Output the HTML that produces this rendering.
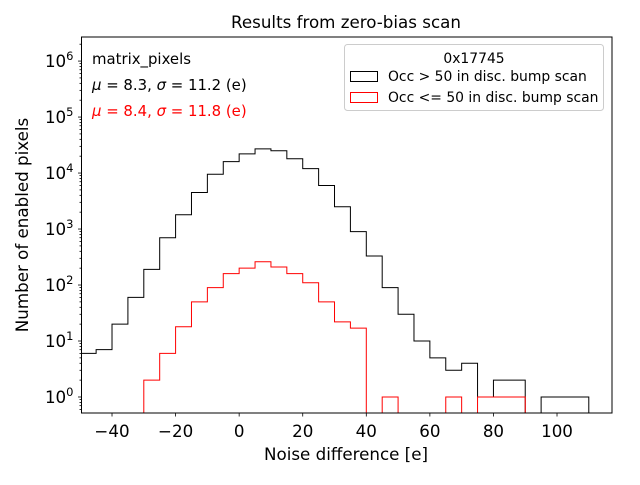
<!DOCTYPE html>
<html><head><meta charset="utf-8"><style>
body{margin:0;background:#fff}
svg text{font-family:"DejaVu Sans","Liberation Sans",sans-serif}
</style></head><body>
<svg id="c" width="640" height="480" xmlns="http://www.w3.org/2000/svg">
<rect width="640" height="480" fill="#fff"/>
<text x="346" y="28" font-size="16.7" text-anchor="middle">Results from zero-bias scan</text>
<g id="series"></g>
<g id="axes"></g>
<rect x="81.5" y="37" width="530.5" height="376" fill="none" stroke="#000" stroke-width="1"/>
<text x="92" y="64" font-size="14.9">matrix_pixels</text>
<text x="92" y="90" font-size="14.9"><tspan font-style="italic">μ</tspan> = 8.3, <tspan font-style="italic">σ</tspan> = 11.2 (e)</text>
<text x="92" y="116" font-size="14.9" fill="#ff0000"><tspan font-style="italic">μ</tspan> = 8.4, <tspan font-style="italic">σ</tspan> = 11.8 (e)</text>
<g>
<rect x="344.5" y="44.5" width="259" height="66" rx="3" fill="#fff" fill-opacity="0.8" stroke="#ccc"/>
<text x="474" y="63" font-size="13.9" text-anchor="middle">0x17745</text>
<rect x="350.5" y="71.5" width="27" height="10" fill="none" stroke="#000"/>
<text x="388" y="81" font-size="13.9">Occ &gt; 50 in disc. bump scan</text>
<rect x="350.5" y="92.5" width="27" height="10" fill="none" stroke="#ff0000"/>
<text x="388" y="102" font-size="13.9">Occ &lt;= 50 in disc. bump scan</text>
</g>
<text x="346" y="460" font-size="16.7" text-anchor="middle">Noise difference [e]</text>
<text transform="translate(28,225) rotate(-90)" font-size="16.7" text-anchor="middle">Number of enabled pixels</text>
</svg>
<script>
const binEdgesStart = -50;
const binWidth = 5;
const blackCounts = [6,7,20,60,190,700,1800,4500,9500,16000,22000,27000,25000,18000,12000,6000,2500,900,330,90,30,10,5,3,4,1,2,2,0,1,1,1];
const redStart = -30;
const redCounts = [2,6,18,50,90,160,200,260,210,160,110,50,22,17,0,1,0,0,0,1,0,1,1,1];
const xTicks = [-40,-20,0,20,40,60,80,100];
const yTickExps = [0,1,2,3,4,5,6];

const L=81.5,R=612,T=37,B=413;
const X0=-49.6,X1=117.3, Ylo=-0.286, Yhi=6.43;
function sx(v){return L+(v-X0)/(X1-X0)*(R-L);}
function sy(v){ if(v<=0) return B+5; return B-(Math.log10(v)-Ylo)/(Yhi-Ylo)*(B-T);}
const NS="http://www.w3.org/2000/svg";
const svg=document.getElementById('c');
const series=document.getElementById('series');
const axes=document.getElementById('axes');
const clip=document.createElementNS(NS,'clipPath');clip.setAttribute('id','pc');
const cr=document.createElementNS(NS,'rect');cr.setAttribute('x',L);cr.setAttribute('y',T);cr.setAttribute('width',R-L);cr.setAttribute('height',B-T);
clip.appendChild(cr);svg.insertBefore(clip,svg.firstChild);
function stepPath(start,counts){
  let d='M'+sx(start)+','+(B+5);
  counts.forEach((c,i)=>{const x0=sx(start+i*binWidth),x1=sx(start+(i+1)*binWidth),y=sy(c);d+=' L'+x0+','+y+' L'+x1+','+y;});
  d+=' L'+sx(start+counts.length*binWidth)+','+(B+5);
  return d;
}
const pb=document.createElementNS(NS,'path');
pb.setAttribute('d',stepPath(binEdgesStart,blackCounts));pb.setAttribute('fill','none');pb.setAttribute('stroke','#000');pb.setAttribute('clip-path','url(#pc)');


series.appendChild(pb);
const pr=document.createElementNS(NS,'path');
pr.setAttribute('d',stepPath(redStart,redCounts));pr.setAttribute('fill','none');pr.setAttribute('stroke','#ff0000');pr.setAttribute('clip-path','url(#pc)');


series.appendChild(pr);
function line(x1,y1,x2,y2){const l=document.createElementNS(NS,'line');l.setAttribute('x1',x1);l.setAttribute('y1',y1);l.setAttribute('x2',x2);l.setAttribute('y2',y2);l.setAttribute('stroke','#000');l.setAttribute('stroke-width','0.8');axes.appendChild(l);return l;}
xTicks.forEach(v=>{const x=sx(v);const l=line(x,B,x,B+3.5);


const t=document.createElementNS(NS,'text');t.setAttribute('x',x);t.setAttribute('y',B+24);t.setAttribute('font-size','16.7');t.setAttribute('text-anchor','middle');t.textContent=(v<0?'\u2212'+(-v):v);


axes.appendChild(t);});
yTickExps.forEach(e=>{const y=sy(Math.pow(10,e));const l=line(L-3.5,y,L,y);


const t=document.createElementNS(NS,'text');t.setAttribute('x',L-8);t.setAttribute('y',y+6);t.setAttribute('font-size','16.7');t.setAttribute('text-anchor','end');
t.innerHTML='10<tspan font-size="11.5" dy="-7">'+e+'</tspan>';


axes.appendChild(t);
for(let m=2;m<=9;m++){const v=m*Math.pow(10,e);const yy=sy(v);if(yy>=T&&yy<=B){line(L-2,yy,L,yy);}}
});
for(let m=2;m<=9;m++){const yy=sy(m*1e-1);if(yy>=T&&yy<=B)line(L-2,yy,L,yy);}
</script>
</body></html>
